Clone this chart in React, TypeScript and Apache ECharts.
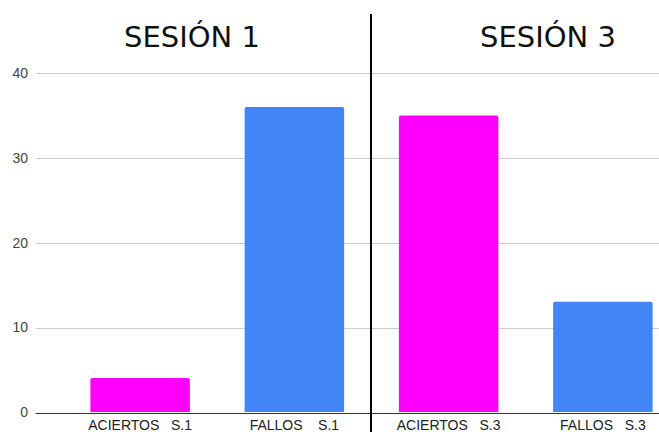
import React, { useEffect, useRef } from "react";
import * as echarts from "echarts";

const categories = ["ACIERTOS   S.1", "FALLOS    S.1", "ACIERTOS   S.3", "FALLOS   S.3"];
const values = [4, 36, 35, 13];
const barColors = ["#ff00ff", "#4285f4", "#ff00ff", "#4285f4"];
const sessionTitles = ["SESIÓN 1", "SESIÓN 3"];
const yMin = 0;
const yMax = 40;
const yStep = 10;

export default function App() {
  const ref = useRef<HTMLDivElement>(null);
  useEffect(() => {
    document.body.style.margin = "0";
    if (!ref.current) return;
    const chart = echarts.init(ref.current, null, { renderer: "svg" });
    const gridTop = 73;
    const gridHeight = 340;
    const titleStyle = { fontSize: 29, fontFamily: "DejaVu Sans", fontWeight: "normal", color: "#111" };
    chart.setOption({
      animation: false,
      backgroundColor: "#ffffff",
      title: [
        { text: sessionTitles[0], left: 192, top: 22, textAlign: "center", padding: 0, textStyle: titleStyle },
        { text: sessionTitles[1], left: 548, top: 22, textAlign: "center", padding: 0, textStyle: titleStyle },
      ],
      grid: [
        { left: 63, top: gridTop, width: 617, height: gridHeight, containLabel: false },
        { left: 36, top: gridTop, width: 645, height: gridHeight, containLabel: false },
      ],
      xAxis: [
        {
          type: "category",
          gridIndex: 0,
          data: categories,
          axisLine: { show: false },
          axisTick: { show: false },
          axisLabel: {
            margin: 6,
            fontSize: 14,
            fontFamily: "Liberation Sans, Arial",
            color: "#222",
            interval: 0,
          },
        },
        {
          type: "category",
          gridIndex: 1,
          data: [""],
          axisLine: { show: true, lineStyle: { color: "#333", width: 1 } },
          axisTick: { show: false },
          axisLabel: { show: false },
        },
      ],
      yAxis: [
        {
          type: "value",
          gridIndex: 0,
          min: yMin,
          max: yMax,
          interval: yStep,
          splitLine: { show: false },
          axisLine: { show: false },
          axisTick: { show: false },
          axisLabel: { margin: 35, fontSize: 14, fontFamily: "Liberation Sans, Arial", color: "#444" },
        },
        {
          type: "value",
          gridIndex: 1,
          min: yMin,
          max: yMax,
          interval: yStep,
          splitLine: { show: true, lineStyle: { color: "#cccccc", width: 1 } },
          axisLine: { show: false },
          axisTick: { show: false },
          axisLabel: { show: false },
        },
      ],
      series: [
        {
          type: "bar",
          xAxisIndex: 0,
          yAxisIndex: 0,
          barWidth: "64.5%",
          data: values.map((v, i) => ({
            value: v,
            itemStyle: { color: barColors[i], borderRadius: [2, 2, 0, 0] },
          })),
        },
      ],
    });
    const c1 = chart.convertToPixel({ xAxisIndex: 0 }, 1) as number;
    const c2 = chart.convertToPixel({ xAxisIndex: 0 }, 2) as number;
    const sepX = Math.round((c1 + c2) / 2) - 1;
    chart.setOption({
      graphic: [
        {
          type: "line",
          shape: { x1: sepX, y1: 14, x2: sepX, y2: 432 },
          style: { stroke: "#000", lineWidth: 2 },
          z: 100,
        },
      ],
    });
    return () => chart.dispose();
  }, []);
  return (
    <div style={{ width: 659, height: 432, overflow: "hidden" }}>
      <div ref={ref} style={{ width: 690, height: 432 }} />
    </div>
  );
}
